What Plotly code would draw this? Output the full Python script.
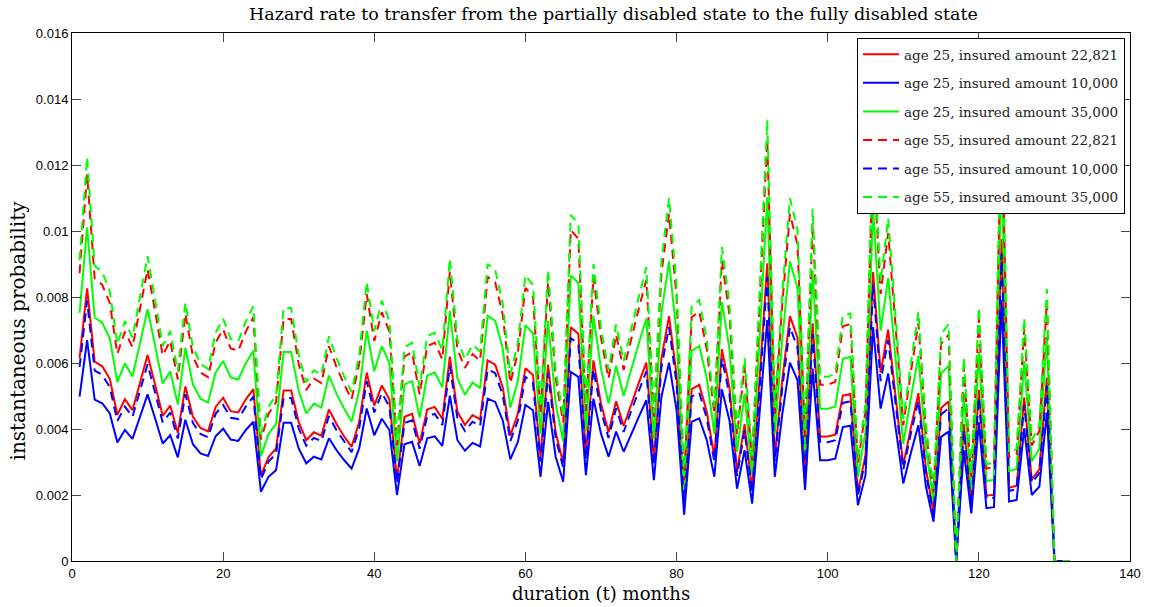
import plotly.graph_objects as go

# duration in months
months = list(range(1, 133))

# hazard rates, in thousandths (x 1e-3)
age25_amt22821 = [
    6.15, 8.26, 6.04, 5.90, 5.52, 4.43, 4.90, 4.57, 5.40, 6.24,
    5.34, 4.40, 4.71, 3.88, 5.29, 4.37, 4.03, 3.93, 4.67, 4.95,
    4.54, 4.50, 4.90, 5.21, 2.59, 3.15, 3.40, 5.17, 5.17, 4.21,
    3.66, 3.90, 3.80, 4.59, 4.15, 3.78, 3.46, 4.21, 5.71, 4.71,
    5.32, 4.90, 2.47, 4.37, 4.46, 3.56, 4.59, 4.67, 4.31, 6.19,
    4.52, 4.12, 4.42, 4.29, 6.08, 5.95, 5.26, 3.80, 4.46, 5.84,
    5.64, 3.15, 5.95, 3.90, 2.96, 7.08, 6.89, 3.21, 6.08, 4.77,
    3.90, 4.84, 4.09, 4.77, 5.40, 6.01, 3.03, 6.15, 7.42, 5.64,
    1.73, 5.21, 5.34, 4.52, 3.15, 6.42, 5.26, 2.70, 4.15, 2.15,
    5.52, 9.02, 3.15, 5.52, 7.42, 6.77, 2.66, 7.20, 3.77, 3.77,
    3.83, 5.01, 5.06, 2.09, 3.21, 8.76, 5.71, 7.01, 4.96, 2.90,
    4.04, 5.09, 2.78, 1.47, 4.64, 4.84, 0.00, 4.15, 1.78, 5.19,
    1.98, 2.01, 9.76, 2.22, 2.28, 4.96, 2.47, 2.78, 5.56, 0.00,
    0.00, 0.00]

age25_amt10000 = [
    4.98, 6.69, 4.89, 4.78, 4.47, 3.59, 3.97, 3.70, 4.37, 5.05,
    4.32, 3.56, 3.81, 3.14, 4.28, 3.54, 3.26, 3.18, 3.78, 4.01,
    3.68, 3.64, 3.97, 4.22, 2.10, 2.55, 2.75, 4.19, 4.19, 3.41,
    2.96, 3.16, 3.08, 3.72, 3.36, 3.06, 2.80, 3.41, 4.62, 3.81,
    4.31, 3.97, 2.00, 3.54, 3.61, 2.88, 3.72, 3.78, 3.49, 5.01,
    3.66, 3.34, 3.58, 3.47, 4.92, 4.82, 4.26, 3.08, 3.61, 4.73,
    4.57, 2.55, 4.82, 3.16, 2.40, 5.73, 5.58, 2.60, 4.92, 3.86,
    3.16, 3.92, 3.31, 3.86, 4.37, 4.87, 2.45, 4.98, 6.01, 4.57,
    1.40, 4.22, 4.32, 3.66, 2.55, 5.20, 4.26, 2.19, 3.36, 1.74,
    4.47, 7.30, 2.55, 4.47, 6.01, 5.48, 2.15, 5.83, 3.05, 3.05,
    3.10, 4.06, 4.10, 1.69, 2.60, 7.09, 4.62, 5.68, 4.02, 2.35,
    3.27, 4.12, 2.25, 1.19, 3.76, 3.92, 0.00, 3.36, 1.44, 4.20,
    1.60, 1.63, 7.90, 1.80, 1.85, 4.02, 2.00, 2.25, 4.50, 0.00,
    0.00, 0.00]

age25_amt35000 = [
    7.52, 10.10, 7.38, 7.22, 6.75, 5.42, 5.99, 5.59, 6.60, 7.63,
    6.52, 5.38, 5.75, 4.74, 6.46, 5.35, 4.92, 4.80, 5.71, 6.06,
    5.56, 5.50, 5.99, 6.37, 3.17, 3.85, 4.15, 6.33, 6.33, 5.15,
    4.47, 4.77, 4.65, 5.62, 5.07, 4.62, 4.23, 5.15, 6.98, 5.75,
    6.51, 5.99, 3.02, 5.35, 5.45, 4.35, 5.62, 5.71, 5.27, 7.57,
    5.53, 5.04, 5.41, 5.24, 7.43, 7.28, 6.43, 4.65, 5.45, 7.14,
    6.90, 3.85, 7.28, 4.77, 3.62, 8.65, 8.43, 3.93, 7.43, 5.83,
    4.77, 5.92, 5.00, 5.83, 6.60, 7.35, 3.70, 7.52, 9.08, 6.90,
    2.11, 6.37, 6.52, 5.53, 3.85, 7.85, 6.43, 3.31, 5.07, 2.63,
    6.75, 11.02, 3.85, 6.75, 9.08, 8.27, 3.25, 8.80, 4.61, 4.61,
    4.68, 6.13, 6.19, 2.55, 3.93, 10.71, 6.98, 8.58, 6.07, 3.55,
    4.94, 6.22, 3.40, 1.80, 5.68, 5.92, 0.00, 5.07, 2.17, 6.34,
    2.42, 2.46, 11.93, 2.72, 2.79, 6.07, 3.02, 3.40, 6.80, 0.00,
    0.00, 0.00]

age55_amt22821 = [
    8.72, 11.71, 8.56, 8.37, 7.82, 6.28, 6.95, 6.48, 7.65, 8.84,
    7.56, 6.23, 6.67, 5.50, 7.49, 6.20, 5.71, 5.57, 6.62, 7.02,
    6.44, 6.37, 6.95, 7.39, 3.68, 4.46, 4.81, 7.33, 7.33, 5.97,
    5.18, 5.53, 5.39, 6.51, 5.88, 5.36, 4.90, 5.97, 8.09, 6.67,
    7.54, 6.95, 3.50, 6.20, 6.32, 5.04, 6.51, 6.62, 6.11, 8.77,
    6.41, 5.85, 6.27, 6.07, 8.61, 8.44, 7.46, 5.39, 6.32, 8.28,
    8.00, 4.46, 8.44, 5.53, 4.20, 10.03, 9.77, 4.55, 8.61, 6.76,
    5.53, 6.86, 5.79, 6.76, 7.65, 8.52, 4.29, 8.72, 10.52, 8.00,
    2.45, 7.39, 7.56, 6.41, 4.46, 9.10, 7.46, 3.83, 5.88, 3.05,
    7.82, 12.78, 4.46, 7.82, 10.52, 9.59, 3.76, 10.20, 5.34, 5.34,
    5.43, 7.11, 7.18, 2.96, 4.55, 12.41, 8.09, 9.94, 7.04, 4.11,
    5.72, 7.21, 3.94, 2.08, 6.58, 6.86, 0.00, 5.88, 2.52, 7.35,
    2.80, 2.85, 13.83, 3.15, 3.24, 7.04, 3.50, 3.94, 7.88, 0.00,
    0.00, 0.00]

age55_amt10000 = [
    5.88, 7.89, 5.77, 5.64, 5.27, 4.24, 4.68, 4.37, 5.16, 5.96,
    5.10, 4.20, 4.50, 3.71, 5.05, 4.18, 3.85, 3.75, 4.46, 4.73,
    4.34, 4.30, 4.68, 4.98, 2.48, 3.01, 3.25, 4.94, 4.94, 4.02,
    3.49, 3.73, 3.63, 4.39, 3.96, 3.61, 3.30, 4.02, 5.45, 4.50,
    5.09, 4.68, 2.36, 4.18, 4.26, 3.40, 4.39, 4.46, 4.12, 5.91,
    4.32, 3.94, 4.22, 4.09, 5.81, 5.69, 5.03, 3.63, 4.26, 5.58,
    5.39, 3.01, 5.69, 3.73, 2.83, 6.76, 6.58, 3.07, 5.81, 4.55,
    3.73, 4.63, 3.91, 4.55, 5.16, 5.75, 2.89, 5.88, 7.09, 5.39,
    1.65, 4.98, 5.10, 4.32, 3.01, 6.14, 5.03, 2.58, 3.96, 2.05,
    5.27, 8.61, 3.01, 5.27, 7.09, 6.47, 2.54, 6.88, 3.60, 3.60,
    3.66, 4.79, 4.84, 1.99, 3.07, 8.37, 5.45, 6.70, 4.74, 2.77,
    3.86, 4.86, 2.66, 1.40, 4.44, 4.63, 0.00, 3.96, 1.70, 4.96,
    1.89, 1.92, 9.32, 2.12, 2.18, 4.74, 2.36, 2.66, 5.31, 0.00,
    0.00, 0.00]

age55_amt35000 = [
    9.11, 12.24, 8.95, 8.75, 8.18, 6.57, 7.27, 6.77, 8.00, 9.24,
    7.91, 6.51, 6.97, 5.75, 7.83, 6.48, 5.97, 5.82, 6.92, 7.34,
    6.73, 6.66, 7.27, 7.72, 3.84, 4.67, 5.03, 7.67, 7.67, 6.24,
    5.42, 5.78, 5.64, 6.81, 6.15, 5.60, 5.12, 6.24, 8.45, 6.97,
    7.89, 7.27, 3.66, 6.48, 6.61, 5.27, 6.81, 6.92, 6.39, 9.17,
    6.70, 6.11, 6.55, 6.35, 9.00, 8.82, 7.80, 5.64, 6.61, 8.66,
    8.36, 4.67, 8.82, 5.78, 4.39, 10.49, 10.21, 4.76, 9.00, 7.06,
    5.78, 7.17, 6.06, 7.06, 8.00, 8.91, 4.48, 9.11, 11.00, 8.36,
    2.56, 7.72, 7.91, 6.70, 4.67, 9.52, 7.80, 4.01, 6.15, 3.18,
    8.18, 13.36, 4.67, 8.18, 11.00, 10.03, 3.93, 10.67, 5.58, 5.58,
    5.67, 7.43, 7.50, 3.09, 4.76, 12.97, 8.45, 10.39, 7.36, 4.30,
    5.98, 7.54, 4.12, 2.18, 6.88, 7.17, 0.00, 6.15, 2.64, 7.69,
    2.93, 2.98, 14.46, 3.29, 3.39, 7.36, 3.66, 4.12, 8.24, 0.00,
    0.00, 0.00]

series_names = [
    "age 25, insured amount 22,821",
    "age 25, insured amount 10,000",
    "age 25, insured amount 35,000",
    "age 55, insured amount 22,821",
    "age 55, insured amount 10,000",
    "age 55, insured amount 35,000",
]
series_values = [age25_amt22821, age25_amt10000, age25_amt35000,
                 age55_amt22821, age55_amt10000, age55_amt35000]
series_colors = ["#ff0000", "#0000ff", "#00ff00", "#ff0000", "#0000ff", "#00ff00"]
series_dash = ["solid", "solid", "solid", "9px,6px", "9px,6px", "9px,6px"]

x_ticks = [0, 20, 40, 60, 80, 100, 120, 140]
y_ticks = [0, 0.002, 0.004, 0.006, 0.008, 0.01, 0.012, 0.014, 0.016]
y_ticktext = ["0", "0.002", "0.004", "0.006", "0.008", "0.01", "0.012", "0.014", "0.016"]

SERIF = "DejaVu Serif"
SANS = "Liberation Sans, Arial, sans-serif"

fig = go.Figure()
for i, (name, vals, col, dash) in enumerate(zip(series_names, series_values, series_colors, series_dash)):
    fig.add_trace(go.Scatter(
        x=months, y=[v / 1000.0 for v in vals], mode="lines", name=name,
        line=dict(color=col, width=2, dash=dash),
        legendgroup="g%d" % i,
    ))

fig.update_layout(
    width=1152, height=607,
    margin=dict(l=72, r=22, t=33, b=46),
    paper_bgcolor="white", plot_bgcolor="white",
    showlegend=True,
    title=dict(
        text="Hazard rate to transfer from the partially disabled state to the fully disabled state",
        x=0.5325, xanchor="center", y=1 - 14 / 607, yanchor="middle",
        font=dict(family=SERIF, size=17.5, color="black"),
    ),
    legend=dict(
        x=0.9953, xanchor="right", y=0.9905, yanchor="top",
        bgcolor="white", bordercolor="black", borderwidth=1,
        font=dict(family=SERIF, size=13.5, color="#222"),
        tracegroupgap=8, traceorder="grouped", itemwidth=36,
    ),
    xaxis=dict(
        range=[0, 140], tickvals=x_ticks, ticktext=[str(t) for t in x_ticks],
        showgrid=False, zeroline=False, showline=True, linecolor="black", linewidth=1,
        mirror="ticks", ticks="inside", ticklen=9, tickcolor="#444", tickwidth=1,
        tickfont=dict(family=SANS, size=13, color="black"),
    ),
    yaxis=dict(
        range=[0, 0.016], tickvals=y_ticks, ticktext=y_ticktext,
        showgrid=False, zeroline=False, showline=True, linecolor="black", linewidth=1,
        mirror="ticks", ticks="inside", ticklen=9, tickcolor="#444", tickwidth=1,
        tickfont=dict(family=SANS, size=13, color="black"),
    ),
    annotations=[
        dict(text="duration (t) months", xref="paper", yref="paper",
             x=0.5, y=(561 - 593) / 528, xanchor="center", yanchor="middle",
             showarrow=False, font=dict(family=SERIF, size=18, color="black")),
        dict(text="instantaneous probability", xref="paper", yref="paper",
             x=(17.5 - 72) / 1058, y=(561 - 331) / 528, xanchor="center", yanchor="middle",
             textangle=-90, showarrow=False, font=dict(family=SERIF, size=20, color="black")),
    ],
)

fig.write_html("out.html")
